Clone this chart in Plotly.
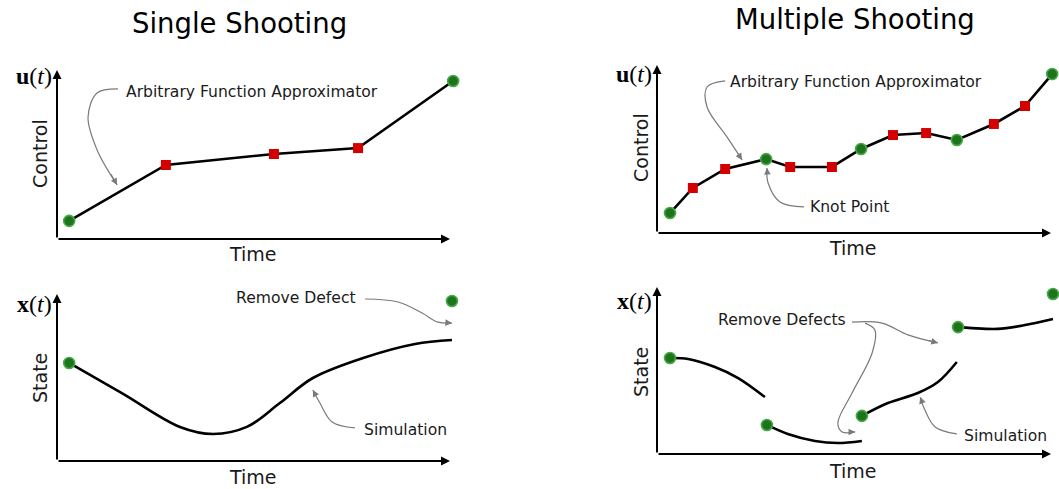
import plotly.graph_objects as go

W, H = 1059, 489

# ---------------- data (time units 0-10 on x, value units 0-10 on y) ----------------
# Single shooting - control
ss_ctrl_t = [0.31, 2.77, 5.52, 7.66, 10.08]
ss_ctrl_u = [1.07, 4.38, 5.03, 5.38, 9.35]
ss_ctrl_knot = [True, False, False, False, True]

# Single shooting - state
ss_state_t = [0.31, 1.65, 3.13, 3.97, 4.83, 5.67, 6.51, 7.79, 9.11, 10.05]
ss_state_x = [5.87, 4.07, 2.04, 1.62, 2.04, 3.47, 4.97, 6.17, 7.01, 7.25]
ss_state_knot_t = [0.31, 10.05]
ss_state_knot_x = [5.87, 9.58]

# Multiple shooting - control
ms_ctrl_t = [0.33, 0.91, 1.73, 2.77, 3.38, 4.44, 5.18, 5.99, 6.83, 7.61, 8.55, 9.34, 10.03]
ms_ctrl_u = [1.19, 2.68, 3.81, 4.40, 3.93, 3.93, 5.00, 5.83, 5.95, 5.54, 6.49, 7.56, 9.46]
ms_ctrl_knot = [True, False, False, True, False, False, True, False, False, True, False, False, True]

# Multiple shooting - state (four simulated arcs)
ms_seg_t = [
    [0.33, 0.79, 1.47, 2.06, 2.74],
    [2.79, 3.32, 4.01, 4.59, 5.20],
    [5.20, 5.86, 6.62, 7.13, 7.61],
    [7.64, 7.99, 8.65, 9.34, 10.05],
]
ms_seg_x = [
    [5.75, 5.69, 5.21, 4.55, 3.41],
    [1.74, 1.20, 0.78, 0.66, 0.78],
    [2.28, 3.05, 3.65, 4.31, 5.51],
    [7.60, 7.54, 7.49, 7.72, 8.08],
]
ms_state_knot_t = [0.33, 2.79, 5.20, 7.64, 10.05]
ms_state_knot_x = [5.75, 1.74, 2.28, 7.60, 9.58]

# Call-out labels and their curved pointer paths
tl_label = ("Arbitrary Function Approximator", 1.70, 8.70)
tl_ptr_t = [1.55, 1.02, 0.79, 1.02, 1.53]
tl_ptr_v = [8.88, 8.64, 7.22, 5.27, 3.20]

bl_label1 = ("Remove Defect", 7.66, 9.76)
bl_ptr1_t = [7.84, 8.68, 9.29, 9.69, 10.05]
bl_ptr1_v = [9.70, 9.52, 8.86, 8.32, 8.26]
bl_label2 = ("Simulation", 7.76, 1.86)
bl_ptr2_t = [7.58, 7.00, 6.69, 6.51]
bl_ptr2_v = [1.98, 2.34, 3.47, 4.25]

tr_label1 = ("Arbitrary Function Approximator", 1.80, 8.99)
tr_ptr1_t = [1.73, 1.27, 1.27, 1.78, 2.16]
tr_ptr1_v = [9.05, 8.69, 7.50, 5.71, 4.35]
tr_label2 = ("Knot Point", 3.83, 1.55)
tr_ptr2_t = [3.73, 3.12, 2.82, 2.79]
tr_ptr2_v = [1.55, 1.85, 2.98, 3.87]

br_label1 = ("Remove Defects", 4.85, 8.02)
br_ptr1_t = [4.95, 5.71, 6.37, 7.13]
br_ptr1_v = [7.90, 7.84, 7.13, 6.65]
br_ptr2_t = [5.28, 5.53, 5.46, 4.95, 4.59, 4.70, 5.03]
br_ptr2_v = [7.84, 7.43, 6.05, 3.65, 1.86, 1.32, 1.32]
br_label2 = ("Simulation", 7.74, 1.08)
br_ptr3_t = [7.61, 7.06, 6.80, 6.68]
br_ptr3_v = [1.20, 1.62, 2.63, 3.41]

# ---------------- layout geometry ----------------
# origin pixel and pixels per unit for each panel
PANELS = {
    "tl": dict(ox=57, oy=239, sx=39.3, sy=16.9, ax="x", ay="y"),
    "bl": dict(ox=57, oy=461, sx=39.3, sy=16.7, ax="x2", ay="y2"),
    "tr": dict(ox=657, oy=233, sx=39.4, sy=16.8, ax="x3", ay="y3"),
    "br": dict(ox=657, oy=454, sx=39.4, sy=16.7, ax="x4", ay="y4"),
}
LO, HI = -0.5, 10.5

FONT = "DejaVu Sans"
GREEN_FILL = "#1d741d"
GREEN_LINE = "#46a846"
RED = "#d40000"
GREY = "#7a7a7a"

fig = go.Figure()
layout_axes = {}
annotations = []


def axname(a):
    return "xaxis" + a[1:] if a.startswith("x") else "yaxis" + a[1:]


for key, p in PANELS.items():
    xhi = min(HI, (W - 0.5 - p["ox"]) / p["sx"])
    yhi = min(HI, (p["oy"] - 0.5) / p["sy"])
    xd = [(p["ox"] + LO * p["sx"]) / W, (p["ox"] + xhi * p["sx"]) / W]
    yd = [1 - (p["oy"] - LO * p["sy"]) / H, 1 - (p["oy"] - yhi * p["sy"]) / H]
    layout_axes[axname(p["ax"])] = dict(domain=xd, range=[LO, xhi], visible=False,
                                         anchor=p["ay"], fixedrange=True)
    layout_axes[axname(p["ay"])] = dict(domain=yd, range=[LO, yhi], visible=False,
                                         anchor=p["ax"], fixedrange=True)
    # axis arrows
    for (x, y) in [(10, 0), (0, 10)]:
        annotations.append(dict(x=x, y=y, ax=0, ay=0, xref=p["ax"], yref=p["ay"],
                                axref=p["ax"], ayref=p["ay"], text="", showarrow=True,
                                arrowhead=2, arrowsize=0.9, arrowwidth=2,
                                arrowcolor="black", standoff=0))


def line(t, v, p, width=2.6, color="black", shape="linear"):
    fig.add_trace(go.Scatter(x=t, y=v, mode="lines", xaxis=p["ax"], yaxis=p["ay"],
                             line=dict(color=color, width=width, shape=shape, smoothing=1.0),
                             hoverinfo="skip", showlegend=False))


def knots(t, v, p):
    fig.add_trace(go.Scatter(x=t, y=v, mode="markers", xaxis=p["ax"], yaxis=p["ay"],
                             marker=dict(size=11, color=GREEN_FILL, symbol="circle",
                                         line=dict(color=GREEN_LINE, width=1.6)),
                             cliponaxis=False, hoverinfo="skip", showlegend=False))


def params(t, v, p):
    fig.add_trace(go.Scatter(x=t, y=v, mode="markers", xaxis=p["ax"], yaxis=p["ay"],
                             marker=dict(size=10, color=RED, symbol="square",
                                         line=dict(width=0)),
                             cliponaxis=False, hoverinfo="skip", showlegend=False))


def pointer(t, v, p):
    line(t, v, p, width=1.2, color=GREY, shape="spline")
    tail_t = t[-1] + 0.35 * (t[-2] - t[-1])
    tail_v = v[-1] + 0.35 * (v[-2] - v[-1])
    annotations.append(dict(x=t[-1], y=v[-1], ax=tail_t, ay=tail_v,
                            xref=p["ax"], yref=p["ay"], axref=p["ax"], ayref=p["ay"],
                            text="", showarrow=True, arrowhead=2, arrowsize=1.1,
                            arrowwidth=1.2, arrowcolor=GREY, standoff=0))


def label(spec, p, anchor="left"):
    txt, t, v = spec
    annotations.append(dict(x=t, y=v, xref=p["ax"], yref=p["ay"], text=txt,
                            showarrow=False, xanchor=anchor, yanchor="middle",
                            font=dict(family=FONT, size=15.6, color="#1a1a1a")))


# ---- Single shooting: control
P = PANELS["tl"]
line(ss_ctrl_t, ss_ctrl_u, P)
params([t for t, k in zip(ss_ctrl_t, ss_ctrl_knot) if not k],
       [u for u, k in zip(ss_ctrl_u, ss_ctrl_knot) if not k], P)
knots([t for t, k in zip(ss_ctrl_t, ss_ctrl_knot) if k],
      [u for u, k in zip(ss_ctrl_u, ss_ctrl_knot) if k], P)
pointer(tl_ptr_t, tl_ptr_v, P)
label(tl_label, P)

# ---- Single shooting: state
P = PANELS["bl"]
line(ss_state_t, ss_state_x, P, shape="spline")
knots(ss_state_knot_t, ss_state_knot_x, P)
pointer(bl_ptr1_t, bl_ptr1_v, P)
label(bl_label1, P, anchor="right")
pointer(bl_ptr2_t, bl_ptr2_v, P)
label(bl_label2, P)

# ---- Multiple shooting: control
P = PANELS["tr"]
line(ms_ctrl_t, ms_ctrl_u, P)
params([t for t, k in zip(ms_ctrl_t, ms_ctrl_knot) if not k],
       [u for u, k in zip(ms_ctrl_u, ms_ctrl_knot) if not k], P)
knots([t for t, k in zip(ms_ctrl_t, ms_ctrl_knot) if k],
      [u for u, k in zip(ms_ctrl_u, ms_ctrl_knot) if k], P)
pointer(tr_ptr1_t, tr_ptr1_v, P)
label(tr_label1, P)
pointer(tr_ptr2_t, tr_ptr2_v, P)
label(tr_label2, P)

# ---- Multiple shooting: state
P = PANELS["br"]
for t, x in zip(ms_seg_t, ms_seg_x):
    line(t, x, P, shape="spline")
knots(ms_state_knot_t, ms_state_knot_x, P)
pointer(br_ptr1_t, br_ptr1_v, P)
pointer(br_ptr2_t, br_ptr2_v, P)
label(br_label1, P, anchor="right")
pointer(br_ptr3_t, br_ptr3_v, P)
label(br_label2, P)


# ---- titles and axis captions (paper coordinates from pixel positions)
def paper_text(txt, px, py, size, family=FONT, xanchor="center", angle=0, color="black"):
    annotations.append(dict(x=px / W, y=1 - py / H, xref="paper", yref="paper", text=txt,
                            showarrow=False, xanchor=xanchor, yanchor="middle",
                            textangle=angle, font=dict(family=family, size=size, color=color)))


paper_text("Single Shooting", 239, 23, 27.5)
paper_text("Multiple Shooting", 855, 19, 27.5)

MATH = "Liberation Serif"
paper_text("<b>u</b>(<i>t</i>)", 54, 76, 24, family=MATH, xanchor="right")
paper_text("<b>x</b>(<i>t</i>)", 54, 304, 24, family=MATH, xanchor="right")
paper_text("<b>u</b>(<i>t</i>)", 654, 74, 24, family=MATH, xanchor="right")
paper_text("<b>x</b>(<i>t</i>)", 654, 301, 24, family=MATH, xanchor="right")

paper_text("Control", 40, 154, 19, angle=-90, color="#1a1a1a")
paper_text("State", 40, 378, 19, angle=-90, color="#1a1a1a")
paper_text("Control", 641, 148, 19, angle=-90, color="#1a1a1a")
paper_text("State", 641, 372, 19, angle=-90, color="#1a1a1a")

paper_text("Time", 253, 254, 19, color="#1a1a1a")
paper_text("Time", 253, 477, 19, color="#1a1a1a")
paper_text("Time", 853, 248, 19, color="#1a1a1a")
paper_text("Time", 853, 471, 19, color="#1a1a1a")

fig.update_layout(width=W, height=H, margin=dict(l=0, r=0, t=0, b=0),
                  paper_bgcolor="white", plot_bgcolor="rgba(0,0,0,0)",
                  showlegend=False, annotations=annotations, **layout_axes)

fig.write_html("out.html", config=dict(displayModeBar=False),
               post_script="document.body.style.margin='0';document.body.style.padding='0';"
                           "document.body.style.overflow='hidden';")
